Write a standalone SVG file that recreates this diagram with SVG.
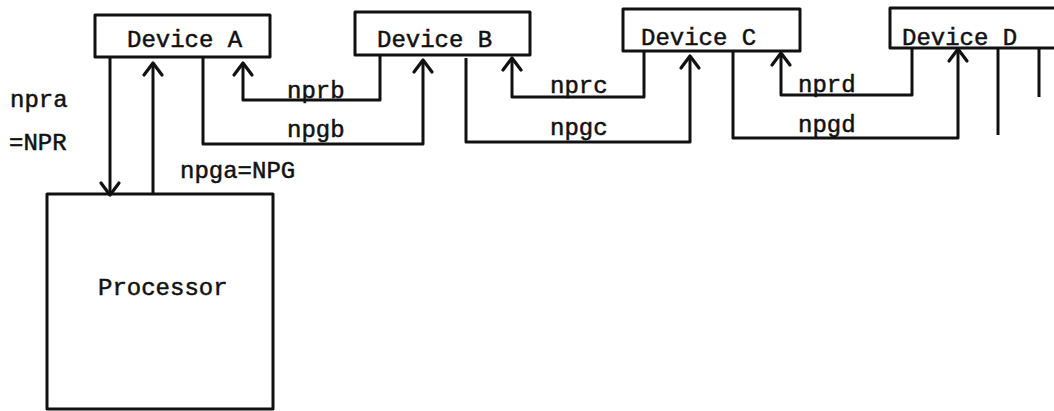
<svg xmlns="http://www.w3.org/2000/svg" width="1054" height="411" viewBox="0 0 1054 411">
<style>
.box{fill:none;stroke:#111;stroke-width:3;stroke-linejoin:round}
.wire{fill:none;stroke:#111;stroke-width:3;stroke-linejoin:round}
.t{font-family:"Liberation Mono","DejaVu Sans Mono",monospace;font-size:24px;fill:#111;stroke:#111;stroke-width:0.5}
</style>
<defs>
<marker id="ah" viewBox="-14 -12 16 24" markerWidth="16" markerHeight="24" markerUnits="userSpaceOnUse" refX="0" refY="0" orient="auto" overflow="visible">
<path d="M-12,-9 L0,0 L-12,9" fill="none" stroke="#111" stroke-width="3.2" stroke-linecap="round" stroke-linejoin="round"/>
</marker>
</defs>
<rect width="1054" height="411" fill="#fff"/>
<g id="deviceA"><rect class="box" x="95" y="15" width="175" height="42"/><text class="t" x="127" y="47">Device A</text></g>
<g id="deviceB"><rect class="box" x="355" y="12" width="175" height="43"/><text class="t" x="377" y="47">Device B</text></g>
<g id="deviceC"><rect class="box" x="623" y="9" width="177" height="42"/><text class="t" x="641" y="45">Device C</text></g>
<g id="deviceD"><path class="box" d="M1056,8 H890 V48 H1056"/><text class="t" x="902" y="45">Device D</text></g>
<g id="processor"><rect class="box" x="47" y="194" width="226" height="215"/><text class="t" x="98" y="295">Processor</text></g>
<g id="connectors">
<path class="wire" d="M110,57 V195" marker-end="url(#ah)"/>
<path class="wire" d="M153,193 V63" marker-end="url(#ah)"/>
<path class="wire" d="M380,55 V100 H243 V63" marker-end="url(#ah)"/>
<path class="wire" d="M203,57 V144 H423 V60" marker-end="url(#ah)"/>
<path class="wire" d="M644,51 V97 H512 V58" marker-end="url(#ah)"/>
<path class="wire" d="M466,58 V142 H690 V56" marker-end="url(#ah)"/>
<path class="wire" d="M912,48 V95 H781 V53" marker-end="url(#ah)"/>
<path class="wire" d="M733,50 V138 H958 V49" marker-end="url(#ah)"/>
<path class="wire" d="M998,48 V135"/>
<path class="wire" d="M1039,48 V97"/>
</g>
<g id="labels">
<text class="t" x="10" y="107">npra</text>
<text class="t" x="9" y="150">=NPR</text>
<text class="t" x="180" y="178">npga=NPG</text>
<text class="t" x="287" y="98">nprb</text>
<text class="t" x="287" y="137">npgb</text>
<text class="t" x="550" y="93">nprc</text>
<text class="t" x="550" y="135">npgc</text>
<text class="t" x="798" y="92">nprd</text>
<text class="t" x="798" y="132">npgd</text>
</g>
</svg>
